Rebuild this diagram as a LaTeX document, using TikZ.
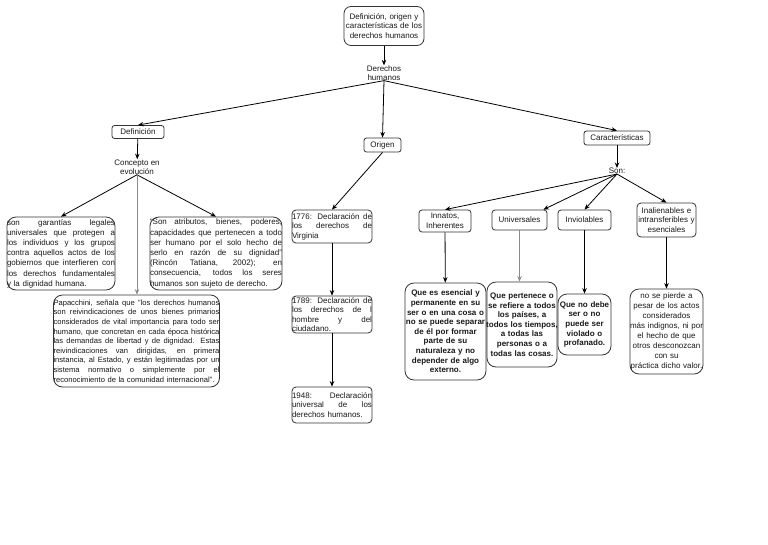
\documentclass[tikz,border=0pt]{standalone}
\usepackage{fontspec}
\setmainfont{Liberation Sans}
\usetikzlibrary{arrows.meta}
\newcommand\jl[1]{\makebox[\hsize][s]{\spaceskip=0pt\xspaceskip=0pt #1}\\}
\tikzset{
  every node/.style={font=\fontsize{8}{9.5}\selectfont, inner sep=0pt, text=black!90},
  sbox/.style={draw=black!80, line width=0.8pt, rounded corners=2.5pt, align=center},
  bbox/.style={draw=black!80, line width=0.8pt, rounded corners=9pt},
  jbox/.style={bbox, align=left, font=\fontsize{8}{10.2}\selectfont},
  dbox/.style={bbox, align=center, inner xsep=-3pt, font=\fontsize{8}{9.6}\selectfont\bfseries},
  cbox/.style={draw=black!80, line width=0.8pt, rounded corners=4pt, align=left},
  txt/.style={align=center},
  arr/.style={-{Stealth[length=5.5pt,width=4.5pt]}, line width=0.8pt, draw=black},
  garr/.style={arr, draw=black!45},
}
\begin{document}
\begin{tikzpicture}[x=1pt, y=-1pt]
\useasboundingbox (0,0) rectangle (768,544);
\fill[white] (0,0) rectangle (768,544);

% top
\node[sbox, rounded corners=7pt, text width=80pt, minimum height=39pt] (title) at (384,26)
  {Definición, origen y\\características de los\\derechos humanos};
\node[txt, font=\fontsize{8}{9}\selectfont] (dh) at (384,73) {Derechos\\humanos};

% level 1
\node[sbox, minimum width=52pt, minimum height=13pt] (def) at (138,132) {Definición};
\node[sbox, minimum width=37pt, minimum height=14pt] (ori) at (382.5,145) {Origen};
\node[sbox, minimum width=66pt, minimum height=14pt] (car) at (617,138) {Características};

% Definicion branch
\node[txt] (conc) at (137,167) {Concepto en\\evolución};
\node[jbox, text width=108pt, minimum height=73pt] (lb) at (61,253.5)
  {\jl{son garantías legales}\jl{universales que protegen a}\jl{los individuos y los grupos}\jl{contra aquellos actos de los}\jl{gobiernos que interfieren con}\jl{los derechos fundamentales}\mbox{y la dignidad humana.}};
\node[jbox, text width=132pt, minimum height=73pt] (rb) at (216,253.5)
  {\jl{``Son atributos, bienes, poderes,}\jl{capacidades que pertenecen a todo}\jl{ser humano por el solo hecho de}\jl{serlo en razón de su dignidad''}\jl{(Rincón Tatiana, 2002); en}\jl{consecuencia, todos los seres}\mbox{humanos son sujeto de derecho.}};
\node[jbox, font=\fontsize{7.6}{9.6}\selectfont, text width=166pt, minimum height=92pt] (pap) at (136.5,341)
  {\jl{Papacchini, señala que "los derechos humanos}\jl{son reivindicaciones de unos bienes primarios}\jl{considerados de vital importancia para todo ser}\jl{humano, que concretan en cada época histórica}\jl{las demandas de libertad y de dignidad. Estas}\jl{reivindicaciones van dirigidas, en primera}\jl{instancia, al Estado, y están legitimadas por un}\jl{sistema normativo o simplemente por el}\mbox{reconocimiento de la comunidad internacional".}};

% Origen branch
\node[cbox, text width=80pt, minimum height=33pt] (d1776) at (332,226.5)
  {\jl{1776: Declaración de}\jl{los derechos de}Virginia};
\node[cbox, text width=80pt, minimum height=37pt] (d1789) at (332,314.5)
  {\jl{1789: Declaración de}\jl{los derechos de l}\jl{hombre y del}ciudadano.};
\node[cbox, text width=80pt, minimum height=36pt] (d1948) at (332,405)
  {\jl{1948: Declaración}\jl{universal de los}derechos humanos.};

% Caracteristicas branch
\node (son) at (617,171) {Son:};
\node[sbox, rounded corners=3pt, minimum width=52pt, minimum height=22pt] (inn) at (445,221) {Innatos,\\Inherentes};
\node[sbox, rounded corners=3pt, minimum width=55pt, minimum height=20pt] (univ) at (519.5,220) {Universales};
\node[sbox, rounded corners=3pt, minimum width=53pt, minimum height=20pt] (inv) at (584.5,220) {Inviolables};
\node[sbox, rounded corners=4pt, text width=59pt, minimum height=34pt] (inal) at (666.5,220) {Inalienables e\\intransferibles y\\esenciales};

\node[dbox, text width=87pt, minimum height=97pt] (innd) at (445.5,331.5)
  {Que es esencial y\\permanente en su\\ser o en una cosa o\\no se puede separar\\de él por formar\\parte de su\\naturaleza y no\\depender de algo\\externo.};
\node[dbox, text width=76pt, minimum height=85pt] (univd) at (522,324.5)
  {Que pertenece o\\se refiere a todos\\los países, a\\todos los tiempos,\\a todas las\\personas o a\\todas las cosas.};
\node[dbox, text width=59pt, minimum height=61pt] (invd) at (584.5,324.5)
  {Que no debe\\ser o no\\puede ser\\violado o\\profanado.};
\node[bbox, align=center, font=\fontsize{8}{9.9}\selectfont, text width=73pt, minimum height=85pt] (inald) at (666.5,331.5)
  {no se pierde a\\pesar de los actos\\considerados\\más indignos, ni por\\el hecho de que\\otros desconozcan\\con su\\práctica dicho valor.};

% connectors
\draw[arr] (title) -- (dh);
\draw[arr] (dh.south) -- (def.north);
\draw[arr] (dh.south) -- (ori.north);
\draw[arr] (dh.south) -- (car.north);
\draw[arr] (def) -- (conc);
\draw[arr] (conc.south) -- (lb.north);
\draw[arr] (conc.south) -- (rb.north);
\draw[garr] (conc.south) -- (conc.south |- pap.north);
\draw[arr] (ori.south) -- (d1776.north);
\draw[arr] (d1776) -- (d1789);
\draw[arr] (d1789) -- (d1948);
\draw[arr] (car) -- (son);
\draw[arr] (son.south) -- (inn.north);
\draw[arr] (son.south) -- ([xshift=-4pt]univ.north east);
\draw[arr] (son.south) -- (inv.north);
\draw[arr] (son.south) -- (inal.north);
\draw[arr] (inn) -- (innd);
\draw[garr] (univ.south) -- (univ.south |- univd.north);
\draw[arr] (inv) -- (invd);
\draw[arr] (inal) -- (inald);
\end{tikzpicture}
\end{document}
